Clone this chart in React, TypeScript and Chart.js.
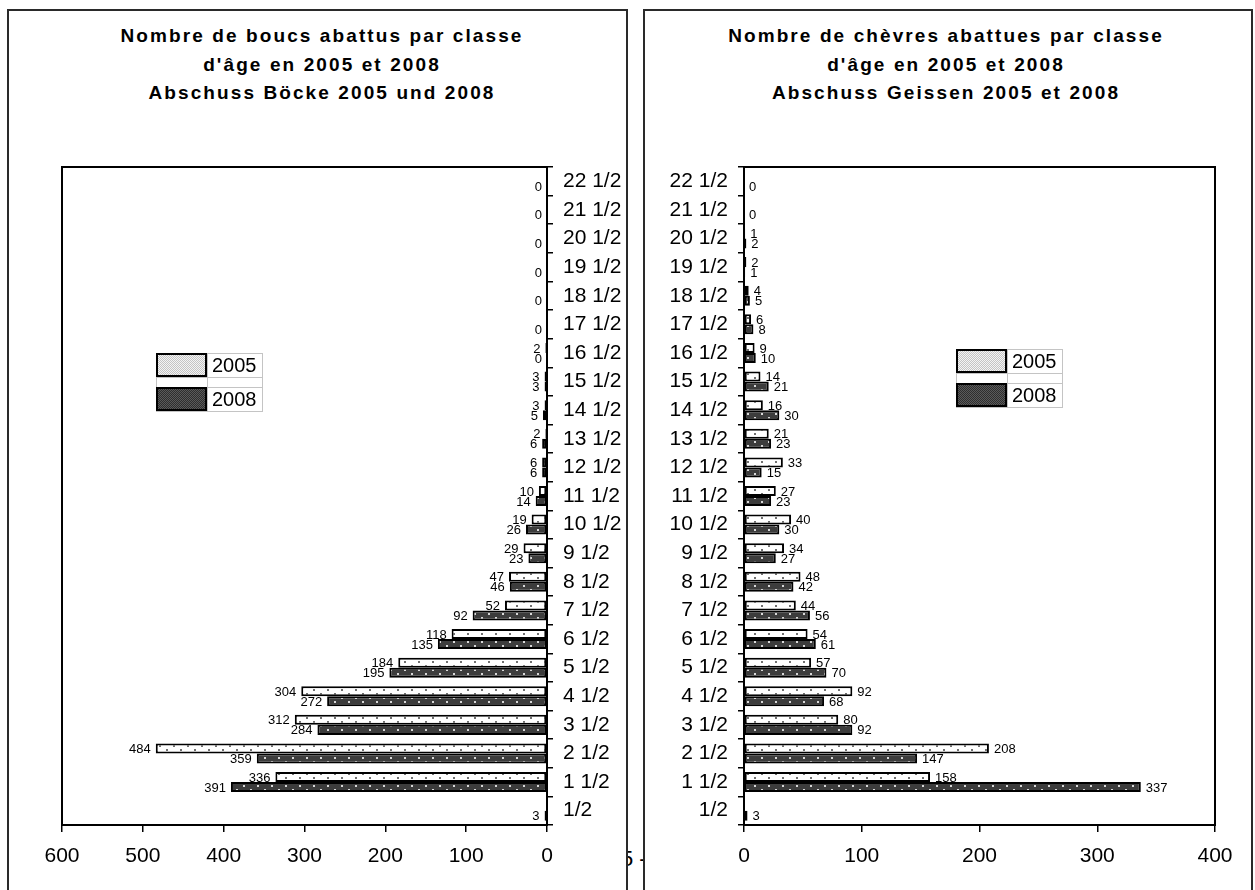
import React, { useEffect, useRef } from "react";
import { Chart, registerables } from "chart.js";

Chart.register(...registerables);

// Age classes, youngest first
const ageClasses = [
  "1/2", "1 1/2", "2 1/2", "3 1/2", "4 1/2", "5 1/2", "6 1/2", "7 1/2",
  "8 1/2", "9 1/2", "10 1/2", "11 1/2", "12 1/2", "13 1/2", "14 1/2",
  "15 1/2", "16 1/2", "17 1/2", "18 1/2", "19 1/2", "20 1/2", "21 1/2", "22 1/2",
];
const years = ["2005", "2008"];

// Bucks (Böcke) shot per age class
const bucks2005 = [null, 336, 484, 312, 304, 184, 118, 52, 47, 29, 19, 10, 6, 2, 3, 3, 2, null, null, null, null, null, null];
const bucks2008 = [3, 391, 359, 284, 272, 195, 135, 92, 46, 23, 26, 14, 6, 6, 5, 3, 0, 0, 0, 0, 0, 0, 0];

// Goats (Geissen) shot per age class
const goats2005 = [null, 158, 208, 80, 92, 57, 54, 44, 48, 34, 40, 27, 33, 21, 16, 14, 9, 6, 4, 2, 1, null, null];
const goats2008 = [3, 337, 147, 92, 68, 70, 61, 56, 42, 27, 30, 23, 15, 23, 30, 21, 10, 8, 5, 1, 2, 0, 0];

const bucksAxisMax = 600;
const goatsAxisMax = 400;
const axisStep = 100;

const bucksTitle = [
  "Nombre de boucs abattus par classe",
  "d'âge en 2005 et 2008",
  "Abschuss Böcke 2005 und 2008",
];
const goatsTitle = [
  "Nombre de chèvres abattues par classe",
  "d'âge en 2005 et 2008",
  "Abschuss Geissen 2005 et 2008",
];

const FONT = '"Liberation Sans", Arial, Helvetica, sans-serif';

function makePattern(ctx: CanvasRenderingContext2D, w: number, h: number, bg: string, dot: string, dots: number[][], size: number) {
  const tile = document.createElement("canvas");
  tile.width = w;
  tile.height = h;
  const g = tile.getContext("2d")!;
  g.fillStyle = bg;
  g.fillRect(0, 0, w, h);
  g.fillStyle = dot;
  dots.forEach(([x, y]) => g.fillRect(x, y, size, size));
  return ctx.createPattern(tile, "repeat")!;
}

// Value labels next to each bar end
const valueLabels = {
  id: "valueLabels",
  afterDatasetsDraw(chart: any, _args: any, opts: any) {
    const ctx = chart.ctx;
    const side = opts.side || 1;
    ctx.save();
    ctx.font = `13px ${FONT}`;
    ctx.fillStyle = "#000";
    ctx.textBaseline = "middle";
    ctx.textAlign = side < 0 ? "right" : "left";
    chart.data.datasets.forEach((ds: any, i: number) => {
      const meta = chart.getDatasetMeta(i);
      meta.data.forEach((bar: any, j: number) => {
        const v = ds.data[j];
        if (v === null || v === undefined) return;
        ctx.fillText(String(v), bar.x + side * 5, bar.y + 1);
      });
    });
    ctx.restore();
  },
};

// Box around the plot area
const plotFrame = {
  id: "plotFrame",
  afterDraw(chart: any) {
    const { ctx, chartArea } = chart;
    ctx.save();
    ctx.strokeStyle = "#000";
    ctx.lineWidth = 2;
    ctx.strokeRect(chartArea.left, chartArea.top, chartArea.right - chartArea.left, chartArea.bottom - chartArea.top);
    ctx.restore();
  },
};

// Small table-style legend
const boxLegend = {
  id: "boxLegend",
  afterDraw(chart: any, _args: any, opts: any) {
    const { ctx } = chart;
    const sw = 51, tw = 55, rh = 24, gap = 10;
    const x0 = opts.x, y0 = opts.y;
    const total = rh * 2 + gap;
    ctx.save();
    ctx.fillStyle = "#fff";
    ctx.fillRect(x0, y0, sw + tw, total);
    ctx.strokeStyle = "#c4c4c4";
    ctx.lineWidth = 1;
    ctx.strokeRect(x0 + 0.5, y0 + 0.5, sw + tw, total);
    ctx.beginPath();
    ctx.moveTo(x0 + sw + 0.5, y0);
    ctx.lineTo(x0 + sw + 0.5, y0 + total);
    ctx.moveTo(x0, y0 + rh + 0.5);
    ctx.lineTo(x0 + sw + tw, y0 + rh + 0.5);
    ctx.moveTo(x0, y0 + rh + gap + 0.5);
    ctx.lineTo(x0 + sw + tw, y0 + rh + gap + 0.5);
    ctx.stroke();
    chart.data.datasets.forEach((ds: any, i: number) => {
      const y = y0 + i * (rh + gap);
      ctx.fillStyle = opts.swatches[i];
      ctx.fillRect(x0, y, sw, rh);
      ctx.strokeStyle = "#000";
      ctx.lineWidth = 2;
      ctx.strokeRect(x0 + 1, y + 1, sw - 2, rh - 2);
      ctx.fillStyle = "#000";
      ctx.font = `20px ${FONT}`;
      ctx.textAlign = "left";
      ctx.textBaseline = "middle";
      ctx.fillText(ds.label, x0 + sw + 5, y + rh / 2 + 1);
    });
    ctx.restore();
  },
};

type PanelProps = {
  values2005: (number | null)[];
  values2008: (number | null)[];
  axisMax: number;
  mirrored: boolean;
  legendAt: { x: number; y: number };
};

function AgeClassChart({ values2005, values2008, axisMax, mirrored, legendAt }: PanelProps) {
  const ref = useRef<HTMLCanvasElement | null>(null);

  useEffect(() => {
    const canvas = ref.current!;
    const ctx = canvas.getContext("2d")!;
    const light = makePattern(ctx, 14, 8, "#ffffff", "#707070", [[3, 2], [10, 6]], 2);
    const dark = makePattern(ctx, 14, 8, "#3c3c3c", "#d8d8d8", [[3, 2], [10, 6]], 2);
    const lightSwatch = makePattern(ctx, 2, 2, "#f4f4f4", "#c4c4c4", [[0, 0], [1, 1]], 1);
    const darkSwatch = makePattern(ctx, 2, 2, "#2e2e2e", "#5a5a5a", [[0, 0], [1, 1]], 1);

    const labels = ageClasses.slice().reverse();
    const d2005 = values2005.slice().reverse();
    const d2008 = values2008.slice().reverse();

    const tickFont = { family: FONT, size: 21 };

    const chart = new Chart(canvas, {
      type: "bar",
      data: {
        labels,
        datasets: [
          {
            label: years[0],
            data: d2005 as any,
            backgroundColor: light,
            borderColor: "#000",
            borderWidth: 2,
            borderSkipped: false,
            categoryPercentage: 0.7,
            barPercentage: 1,
          },
          {
            label: years[1],
            data: d2008 as any,
            backgroundColor: dark,
            borderColor: "#000",
            borderWidth: 2,
            borderSkipped: false,
            categoryPercentage: 0.7,
            barPercentage: 1,
          },
        ],
      },
      options: {
        indexAxis: "y",
        animation: false,
        responsive: false,
        events: [],
        layout: {
          padding: mirrored
            ? { left: 53, top: 156, right: 0, bottom: 0 }
            : { left: 0, top: 156, right: 36, bottom: 0 },
        },
        plugins: {
          legend: { display: false },
          tooltip: { enabled: false },
          title: { display: false },
          valueLabels: { side: mirrored ? -1 : 1 },
          boxLegend: { x: legendAt.x, y: legendAt.y, swatches: [lightSwatch, darkSwatch] },
        } as any,
        scales: {
          x: {
            type: "linear",
            reverse: mirrored,
            min: 0,
            max: axisMax,
            ticks: { stepSize: axisStep, font: tickFont, color: "#000", padding: 12, maxRotation: 0 },
            grid: { drawOnChartArea: false, drawTicks: true, tickLength: 7, color: "#000", lineWidth: 1.5 },
            border: { display: true, color: "#000", width: 2 },
            afterFit: (s: any) => {
              s.height = 65;
            },
          },
          y: {
            type: "category",
            position: mirrored ? "right" : "left",
            ticks: { font: tickFont, color: "#000", padding: 10, autoSkip: false },
            grid: { drawOnChartArea: false, drawTicks: true, tickLength: 6, color: "#000", lineWidth: 1.5 },
            border: { display: true, color: "#000", width: 2 },
            afterFit: (s: any) => {
              s.width = mirrored ? 79 : 98;
            },
          },
        },
      },
      plugins: [valueLabels, plotFrame, boxLegend],
    });

    return () => chart.destroy();
  }, [values2005, values2008, axisMax, mirrored, legendAt]);

  return <canvas ref={ref} width={mirrored ? 617 : 605} height={879} style={{ display: "block", width: mirrored ? 617 : 605, height: 879 }} />;
}

const titleStyle: React.CSSProperties = {
  position: "absolute",
  top: 22,
  width: 600,
  textAlign: "center",
  fontFamily: FONT,
  fontWeight: "bold",
  fontSize: 19,
  lineHeight: "28.5px",
  letterSpacing: "2.1px",
  color: "#000",
  whiteSpace: "nowrap",
};

const frameStyle: React.CSSProperties = {
  position: "absolute",
  top: 9,
  height: 900,
  boxSizing: "border-box",
  border: "2px solid #2a2a2a",
  background: "#fff",
};

const bucksLegend = { x: 147, y: 342 };
const goatsLegend = { x: 310, y: 338 };

export default function App() {
  return (
    <div style={{ position: "fixed", left: 0, top: 0, width: 1255, height: 890, background: "#fff", overflow: "hidden" }}>
      <span style={{ position: "absolute", left: 621, top: 846, fontFamily: FONT, fontSize: 22, color: "#000" }}>5 -</span>
      <div style={{ ...frameStyle, left: 7, width: 621 }} />
      <div style={{ ...frameStyle, left: 643, width: 610 }} />
      <div style={{ ...titleStyle, left: 322 - 300 }}>
        {bucksTitle.map((t) => (
          <div key={t}>{t}</div>
        ))}
      </div>
      <div style={{ ...titleStyle, left: 946 - 300 }}>
        {goatsTitle.map((t) => (
          <div key={t}>{t}</div>
        ))}
      </div>
      <div style={{ position: "absolute", left: 9, top: 11 }}>
        <AgeClassChart values2005={bucks2005} values2008={bucks2008} axisMax={bucksAxisMax} mirrored={true} legendAt={bucksLegend} />
      </div>
      <div style={{ position: "absolute", left: 646, top: 11 }}>
        <AgeClassChart values2005={goats2005} values2008={goats2008} axisMax={goatsAxisMax} mirrored={false} legendAt={goatsLegend} />
      </div>
    </div>
  );
}
